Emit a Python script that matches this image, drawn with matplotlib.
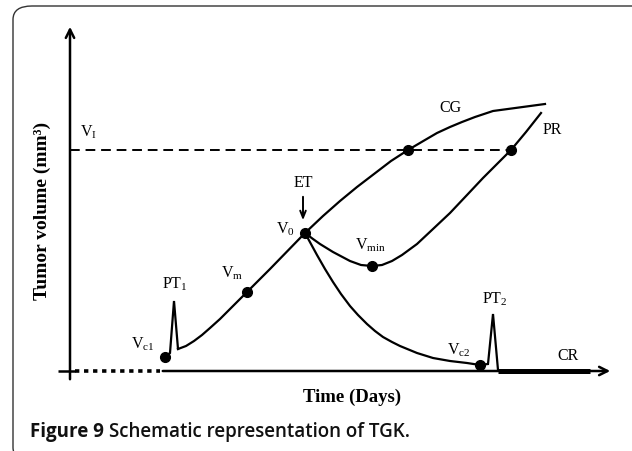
import matplotlib
matplotlib.use("Agg")
import matplotlib.pyplot as plt
from matplotlib.patches import FancyBboxPatch

plt.rcParams['font.family'] = ['Liberation Serif', 'DejaVu Serif']
plt.rcParams['mathtext.fontset'] = 'custom'
plt.rcParams['mathtext.rm'] = 'Liberation Serif'
plt.rcParams['mathtext.it'] = 'Liberation Serif:italic'
plt.rcParams['mathtext.bf'] = 'Liberation Serif:bold'
plt.rcParams['mathtext.default'] = 'rm'

# ---------------- data (schematic units: time, volume) ----------------
spike1_t = [95, 100, 104, 108]
spike1_v = [14, 18, 70, 22]
growth_t = [108, 116, 124, 132, 140, 150, 160, 177, 200, 235]
growth_v = [22, 25, 30, 36, 43, 52, 62, 79, 102, 138]

cg_t = [235, 253, 270, 287, 304, 321, 338, 355, 367, 380, 392, 405, 414, 423, 475]
cg_v = [138, 155, 170, 184, 197, 210, 221, 231, 238, 244, 249, 254, 257, 260, 267]

pr_t = [235, 243, 250, 263, 280, 291, 302, 312, 322, 332, 347, 363, 380, 397, 413, 427, 441, 456, 471]
pr_v = [138, 132, 127, 119, 110, 106, 105, 106, 110, 116, 127, 142, 158, 176, 193, 207, 221, 239, 258]

cr_t = [235, 241, 247, 255, 263, 271, 280, 288, 297, 305, 313, 322, 330, 347, 363, 380, 397, 410]
cr_v = [138, 127, 116, 102, 89, 77, 65, 56, 47, 40, 34, 29, 25, 18, 13, 10, 8, 6]

spike2_t = [410, 418, 423, 428]
spike2_v = [6, 7, 57, 1]

cr_line_t = [428, 520]
cr_line_v = [0, 0]

vi_level = 221
vi_t = [0, 441]

pts_t = [95, 177, 235, 302, 338, 441, 410]
pts_v = [14, 79, 138, 105, 221, 221, 6]

labels = [r'$V_{I}$', 'CG', 'PR', 'ET', r'$V_{0}$', r'$V_{min}$', r'$V_{m}$',
          r'$PT_{1}$', r'$V_{c1}$', r'$V_{c2}$', r'$PT_{2}$', 'CR']
label_t = [18, 380, 482, 233, 215, 300, 162, 105, 73, 389, 425, 498]
label_v = [240, 264, 242, 189, 143, 127, 99, 88, 28, 22, 73, 16]

# ---------------- figure ----------------
fig = plt.figure(figsize=(6.32, 4.52), dpi=100)
ax = fig.add_axes([0, 0, 1, 1])
ax.set_xlim(-70, 562)
ax.set_ylim(-80, 372)
ax.axis('off')

# rounded frame (extends past right and bottom edges)
frame = FancyBboxPatch((13 / 632, -10 / 452), 1.2, (452 - 7 + 10) / 452,
                       boxstyle="round,pad=0,rounding_size=0.03",
                       transform=fig.transFigure, fill=False,
                       edgecolor='#333333', linewidth=1.0, clip_on=False)
fig.patches.append(frame)

lw = 1.6
# axes arrows
ax.annotate('', xy=(0, 347), xytext=(0, -11),
            arrowprops=dict(arrowstyle='->,head_length=0.6,head_width=0.3', lw=1.8, color='black'))
ax.annotate('', xy=(543, 0), xytext=(90, 0),
            arrowprops=dict(arrowstyle='->,head_length=0.6,head_width=0.3', lw=1.8, color='black'))
ax.plot([-12, 5], [0, 0], color='black', lw=1.8, solid_capstyle='butt')
ax.plot([5, 90], [0, 0], color='black', lw=2.6, linestyle=(0, (1.2, 1.3)))

# dashed V_I line
ax.plot(vi_t, [vi_level, vi_level], color='black', lw=1.4, linestyle=(0, (5, 3)))

# curves
ax.plot(spike1_t, spike1_v, color='black', lw=lw, solid_joinstyle='miter')
ax.plot(growth_t, growth_v, color='black', lw=lw)
ax.plot(cg_t, cg_v, color='black', lw=lw)
ax.plot(pr_t, pr_v, color='black', lw=lw)
ax.plot(cr_t, cr_v, color='black', lw=lw)
ax.plot(spike2_t, spike2_v, color='black', lw=lw, solid_joinstyle='miter')
ax.plot(cr_line_t, cr_line_v, color='black', lw=3.6, solid_capstyle='butt')

# points
ax.plot(pts_t, pts_v, 'o', color='black', markersize=7, zorder=5)

# ET arrow
ax.annotate('', xy=(233, 148), xytext=(233, 177),
            arrowprops=dict(arrowstyle='->,head_length=0.5,head_width=0.2', lw=1.4, color='black'))

for s, t, v in zip(labels, label_t, label_v):
    ax.text(t, v, s, fontsize=11.5, ha='center', va='center', color='black')

# axis titles
ax.text(282, -25, 'Time (Days)', fontsize=13.5, fontweight='bold', ha='center', va='center')
ax.text(-28, 161, 'Tumor volume (mm³)', fontsize=14, fontweight='bold', ha='center',
        va='center', rotation=90)

# caption
r = fig.canvas.get_renderer()
t1 = fig.text(30 / 632, 1 - 437 / 452, 'Figure 9', fontsize=13.5, fontweight='bold',
              family=['Open Sans', 'DejaVu Sans'], ha='left', va='baseline', color='#111111')
bb = t1.get_window_extent(renderer=r)
fig.text(bb.x1 / 632 + 5 / 632, 1 - 437 / 452, 'Schematic representation of TGK.', fontsize=13.5,
         fontweight='semibold', family=['Open Sans', 'DejaVu Sans'], ha='left', va='baseline',
         color='#111111')

fig.savefig('out.png', dpi=100)
